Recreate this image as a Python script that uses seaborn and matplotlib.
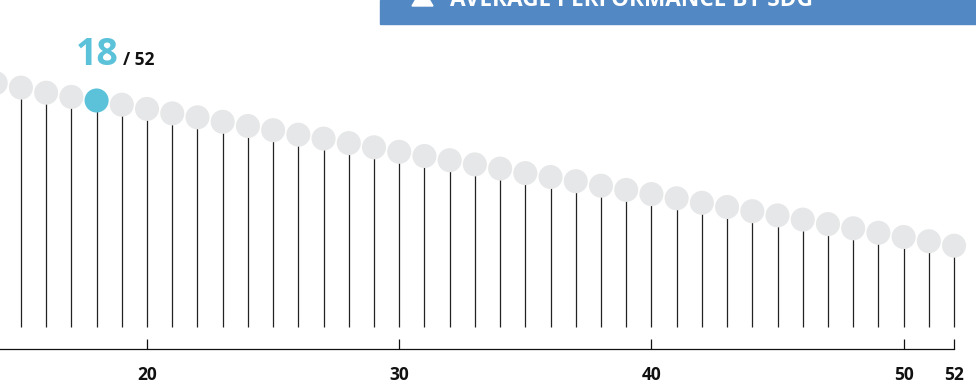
import matplotlib
matplotlib.use("Agg")
import matplotlib.pyplot as plt
from matplotlib.patches import Polygon, Rectangle
import pandas as pd
import seaborn as sns

# ranks visible in the crop (14..52) and their average score
ranks = list(range(14, 53))
scores = [81.3, 79.8, 78.1, 76.7, 75.5, 74.1, 72.7, 71.2, 69.9, 68.4,
          67.0, 65.6, 64.1, 62.8, 61.3, 59.9, 58.4, 57.0, 55.6, 54.2,
          52.8, 51.3, 50.0, 48.6, 47.1, 45.7, 44.3, 42.9, 41.4, 40.0,
          38.6, 37.2, 35.8, 34.3, 32.9, 31.4, 30.0, 28.6, 27.1]
highlight_rank = 18
total_ranks = 52
tick_ranks = [20, 30, 40, 50, 52]
banner_title = "AVERAGE PERFORMANCE BY SDG"

GREY = "#E6E7E8"
BLUE = "#5BC2DA"
BANNER = "#5288C3"

sns.set_theme(style="white")
plt.rcParams["font.family"] = ["Open Sans", "DejaVu Sans"]

df = pd.DataFrame({"rank": ranks, "score": scores})
df["kind"] = ["hi" if r == highlight_rank else "lo" for r in df["rank"]]

fig = plt.figure(figsize=(9.76, 3.87), dpi=100)
ax = fig.add_axes([0, 0, 1, 1])

# stems
ax.vlines(df["rank"], 0, df["score"], color="#222222", linewidth=0.9, zorder=1)
sns.scatterplot(data=df, x="rank", y="score", hue="kind",
                palette={"hi": BLUE, "lo": GREY}, s=300, linewidth=0,
                legend=False, zorder=2, ax=ax)

ax.set_xlim(14.17, 52.87)
ax.set_ylim(-20, 109)
ax.set_xlabel("")
ax.set_ylabel("")
ax.patch.set_alpha(0)

# spine first: moving it resets the ticks
sns.despine(ax=ax, left=True)
ax.spines["bottom"].set_position(("data", -7.33))
ax.spines["bottom"].set_bounds(14.17, 52)
ax.spines["bottom"].set_color("#111111")
ax.spines["bottom"].set_linewidth(0.9)

ax.set_yticks([])
ax.set_xticks(tick_ranks)
ax.set_xticklabels([str(t) for t in tick_ranks])
ax.tick_params(axis="x", direction="in", length=7.2, width=0.9, color="#111111",
               pad=12, bottom=True, labelsize=12.5, labelcolor="#111111")
for lbl in ax.get_xticklabels():
    lbl.set_fontweight("bold")

# highlighted rank label
hi_score = df.loc[df["rank"] == highlight_rank, "score"].iloc[0]
ax.annotate(str(highlight_rank), xy=(highlight_rank, hi_score),
            xytext=(22, 35.5), textcoords="offset pixels", ha="right", va="baseline",
            fontsize=27, fontweight="bold", color=BLUE)
ax.annotate(f"/ {total_ranks}", xy=(highlight_rank, hi_score),
            xytext=(26, 35.5), textcoords="offset pixels", ha="left", va="baseline",
            fontsize=12.5, fontweight="bold", color="#111111")

# banner cut off at the top edge
W, H = 976, 387
fig.add_artist(Rectangle((380 / W, 1 - 23.5 / H), 1 - 380 / W, 23.5 / H,
                         transform=fig.transFigure, color=BANNER, zorder=3))
fig.add_artist(Polygon([(412 / W, 1 - 6 / H), (433 / W, 1 - 6 / H),
                        (422.5 / W, 1 + 12 / H)], closed=True,
                       transform=fig.transFigure, color="white", zorder=4))
fig.text(450 / W, 1 - 5.5 / H, banner_title, ha="left", va="baseline",
         fontsize=16.3, fontweight="bold", color="white", zorder=4)

fig.savefig("out.png", dpi=100)
